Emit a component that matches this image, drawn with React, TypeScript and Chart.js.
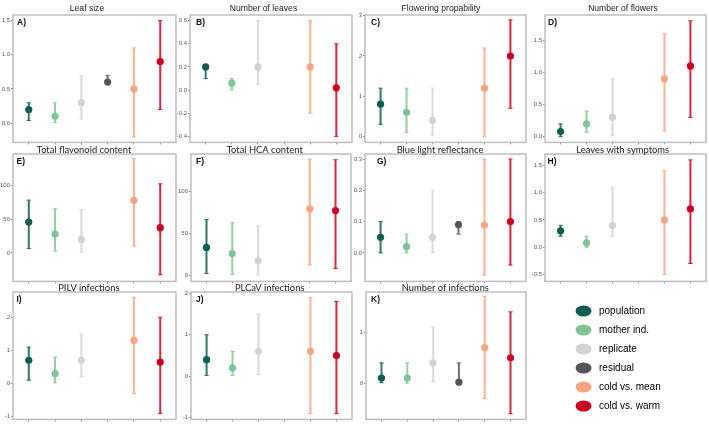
import React, { useEffect, useRef } from "react";
import { Chart, registerables } from "chart.js";

Chart.register(...registerables);

const FONT = "'Liberation Sans', Arial, sans-serif";

const categories = ["population", "mother ind.", "replicate", "residual", "cold vs. mean", "cold vs. warm"];
const seriesColors = ["#0f5c54", "#7fc497", "#d2d2d0", "#555555", "#f4a582", "#ca0020"];

// A) Leaf size
const leafSizeMean = [0.2, 0.1, 0.3, 0.6, 0.5, 0.9];
const leafSizeLow = [0.04, 0.01, 0.06, 0.57, -0.2, 0.2];
const leafSizeHigh = [0.3, 0.3, 0.7, 0.7, 1.1, 1.5];
const leafSizeTicks = ["0.0", "0.5", "1.0", "1.5"];

// B) Number of leaves
const leavesMean = [0.2, 0.06, 0.2, null, 0.2, 0.02];
const leavesLow = [0.1, 0.0, 0.05, null, -0.2, -0.4];
const leavesHigh = [0.21, 0.1, 0.6, null, 0.6, 0.4];
const leavesTicks = ["-0.4", "-0.2", "0.0", "0.2", "0.4", "0.6"];

// C) Flowering propability
const floweringMean = [0.8, 0.6, 0.4, null, 1.2, 2.0];
const floweringLow = [0.3, 0.1, 0.03, null, 0.0, 0.7];
const floweringHigh = [1.2, 1.2, 1.2, null, 2.2, 2.9];
const floweringTicks = ["0", "1", "2", "3"];

// D) Number of flowers
const flowersMean = [0.08, 0.2, 0.3, null, 0.9, 1.1];
const flowersLow = [0.0, 0.07, 0.02, null, 0.09, 0.3];
const flowersHigh = [0.2, 0.4, 0.9, null, 1.6, 1.8];
const flowersTicks = ["0.0", "0.5", "1.0", "1.5"];

// E) Total flavonoid content
const flavonoidMean = [45.8, 28, 20, null, 77.8, 37.4];
const flavonoidLow = [6.4, 2.5, 0, null, 10.3, -32.5];
const flavonoidHigh = [78.3, 65.5, 64, null, 140, 102.5];
const flavonoidTicks = ["0", "50", "100"];

// F) Total HCA content
const hcaMean = [33, 25.7, 17, null, 79, 77];
const hcaLow = [2, 0.8, 0.4, null, 12, 8];
const hcaHigh = [66.4, 62.5, 58.5, null, 138.3, 137.5];
const hcaTicks = ["0", "50", "100"];

// G) Blue light reflectance
const blueMean = [0.05, 0.02, 0.05, 0.09, 0.089, 0.1];
const blueLow = [0, 0, 0, 0.06, -0.071, -0.039];
const blueHigh = [0.1, 0.06, 0.2, 0.1, 0.3, 0.3];
const blueTicks = ["0.0", "0.1", "0.2", "0.3"];

// H) Leaves with symptoms
const symptomsMean = [0.3, 0.08, 0.4, null, 0.5, 0.7];
const symptomsLow = [0.2, 0.0, 0.2, null, -0.5, -0.3];
const symptomsHigh = [0.4, 0.2, 1.1, null, 1.4, 1.6];
const symptomsTicks = ["-0.5", "0.0", "0.5", "1.0", "1.5"];

// I) PILV infections
const pilvMean = [0.7, 0.3, 0.7, null, 1.3, 0.65];
const pilvLow = [0.1, 0.02, 0.2, null, -0.3, -0.9];
const pilvHigh = [1.1, 0.8, 1.5, null, 2.6, 2.0];
const pilvTicks = ["-1", "0", "1", "2"];

// J) PLCaV infections
const plcavMean = [0.4, 0.2, 0.6, null, 0.6, 0.5];
const plcavLow = [0.02, 0.02, 0.04, null, -0.9, -0.9];
const plcavHigh = [1.0, 0.6, 1.5, null, 1.9, 1.8];
const plcavTicks = ["-1", "0", "1", "2"];

// K) Number of infections
const infectionsMean = [0.1, 0.1, 0.4, 0.02, 0.7, 0.5];
const infectionsLow = [0.01, 0, 0.03, 0, -0.3, -0.6];
const infectionsHigh = [0.4, 0.4, 1.1, 0.4, 1.7, 1.4];
const infectionsTicks = ["0", "1"];

type Num = number | null;

interface PanelSpec {
  letter: string;
  title: string;
  mean: Num[];
  low: Num[];
  high: Num[];
  ticks: string[];
  yMin: number;
  yMax: number;
  box: [number, number, number, number];
  top: number;
  titleX: number;
  titleY: number;
  titleFont: string;
  letterDx: number;
}

const ROW1_TITLE = `8.6px ${FONT}`;
const ROW23_TITLE = `9.4px Lato, ${FONT}`;

const panels: PanelSpec[] = [
  { letter: "A)", title: "Leaf size", mean: leafSizeMean, low: leafSizeLow, high: leafSizeHigh, ticks: leafSizeTicks, yMin: -0.28, yMax: 1.58, box: [13, 15, 176, 143], top: 0, titleX: 87, titleY: 10.5, titleFont: ROW1_TITLE, letterDx: 4 },
  { letter: "B)", title: "Number of leaves", mean: leavesMean, low: leavesLow, high: leavesHigh, ticks: leavesTicks, yMin: -0.452, yMax: 0.649, box: [190, 15, 352, 143], top: 0, titleX: 263.5, titleY: 10.5, titleFont: ROW1_TITLE, letterDx: 6 },
  { letter: "C)", title: "Flowering propability", mean: floweringMean, low: floweringLow, high: floweringHigh, ticks: floweringTicks, yMin: -0.15, yMax: 3.02, box: [365, 15, 526, 143], top: 0, titleX: 441, titleY: 10.5, titleFont: ROW1_TITLE, letterDx: 6 },
  { letter: "D)", title: "Number of flowers", mean: flowersMean, low: flowersLow, high: flowersHigh, ticks: flowersTicks, yMin: -0.088, yMax: 1.89, box: [545, 15, 706, 143], top: 0, titleX: 623, titleY: 10.5, titleFont: ROW1_TITLE, letterDx: 3 },
  { letter: "E)", title: "Total flavonoid content", mean: flavonoidMean, low: flavonoidLow, high: flavonoidHigh, ticks: flavonoidTicks, yMin: -42.4, yMax: 146.8, box: [13, 154, 176, 282], top: 143, titleX: 84, titleY: 152.7, titleFont: ROW23_TITLE, letterDx: 3.5 },
  { letter: "F)", title: "Total HCA content", mean: hcaMean, low: hcaLow, high: hcaHigh, ticks: hcaTicks, yMin: -7.5, yMax: 144.3, box: [191, 154, 351, 282], top: 143, titleX: 264.7, titleY: 152.7, titleFont: ROW23_TITLE, letterDx: 5 },
  { letter: "G)", title: "Blue light reflectance", mean: blueMean, low: blueLow, high: blueHigh, ticks: blueTicks, yMin: -0.091, yMax: 0.316, box: [365, 154, 526, 282], top: 143, titleX: 440, titleY: 152.7, titleFont: ROW23_TITLE, letterDx: 12 },
  { letter: "H)", title: "Leaves with symptoms", mean: symptomsMean, low: symptomsLow, high: symptomsHigh, ticks: symptomsTicks, yMin: -0.628, yMax: 1.708, box: [545, 154, 706, 282], top: 143, titleX: 622.7, titleY: 152.7, titleFont: ROW23_TITLE, letterDx: 2.5 },
  { letter: "I)", title: "PILV infections", mean: pilvMean, low: pilvLow, high: pilvHigh, ticks: pilvTicks, yMin: -1.08, yMax: 2.76, box: [13, 292, 176, 420], top: 281, titleX: 88.8, titleY: 290.7, titleFont: ROW23_TITLE, letterDx: 3.5 },
  { letter: "J)", title: "PLCaV infections", mean: plcavMean, low: plcavLow, high: plcavHigh, ticks: plcavTicks, yMin: -1.04, yMax: 2.03, box: [191, 292, 352, 420], top: 281, titleX: 269.7, titleY: 290.7, titleFont: ROW23_TITLE, letterDx: 5 },
  { letter: "K)", title: "Number of infections", mean: infectionsMean, low: infectionsLow, high: infectionsHigh, ticks: infectionsTicks, yMin: -0.71, yMax: 1.79, box: [366, 292, 526, 420], top: 281, titleX: 445.3, titleY: 290.7, titleFont: ROW23_TITLE, letterDx: 5 },
];

function withAlpha(hex: string, a: number): string {
  const n = parseInt(hex.slice(1), 16);
  return `rgba(${(n >> 16) & 255}, ${(n >> 8) & 255}, ${n & 255}, ${a})`;
}

// Frame around the plotting area, the panel letter and the panel heading.
const panelDecor = {
  id: "panelDecor",
  beforeDatasetsDraw(chart: any, _args: any, opts: any) {
    const { ctx, chartArea: a } = chart;
    ctx.save();
    ctx.strokeStyle = "#bdbdbd";
    ctx.lineWidth = 1.5;
    ctx.strokeRect(a.left, a.top, a.right - a.left, a.bottom - a.top);
    ctx.restore();
  },
  afterDraw(chart: any, _args: any, opts: any) {
    const { ctx, chartArea: a } = chart;
    ctx.save();
    ctx.textAlign = "left";
    ctx.textBaseline = "alphabetic";
    ctx.fillStyle = "#111111";
    ctx.font = `bold 8.5px ${FONT}`;
    ctx.fillText(opts.letter, a.left + opts.letterDx, a.top + 10);
    ctx.textAlign = "center";
    ctx.fillStyle = "#222222";
    ctx.font = opts.titleFont;
    ctx.fillText(opts.title, opts.titleX, opts.titleY);
    ctx.restore();
  },
};

function buildDatasets(spec: PanelSpec) {
  const estimates = {
    label: "estimate",
    data: categories.map((_, i) => ({ x: i, y: spec.mean[i] })),
    pointRadius: 3.6,
    pointBorderWidth: 0,
    pointBackgroundColor: seriesColors,
    pointBorderColor: seriesColors,
    showLine: false,
  };
  const whiskers = categories
    .map((_, i) => i)
    .filter((i) => spec.mean[i] !== null)
    .map((i) => {
      const c = withAlpha(seriesColors[i], 0.85);
      return {
        label: categories[i],
        data: [
          { x: i, y: spec.low[i] },
          { x: i, y: spec.high[i] },
        ],
        showLine: true,
        borderColor: c,
        borderWidth: 2,
        pointStyle: "line",
        pointRadius: 2.2,
        pointBorderWidth: 1,
        pointBorderColor: c,
        pointBackgroundColor: c,
      };
    });
  return [estimates, ...whiskers];
}

function Panel({ spec }: { spec: PanelSpec }) {
  const ref = useRef<HTMLCanvasElement>(null);
  const [l, t, r, b] = spec.box;
  const left = Math.max(0, l - 14);
  const top = spec.top;
  const width = r + 2 - left;
  const height = b + 4 - top;

  useEffect(() => {
    const gutter = l - left;
    const tickValues = spec.ticks.map(Number);
    const gridOpts = { display: true, drawOnChartArea: false, drawTicks: true, tickLength: 2, color: "#8a8a8a", lineWidth: 1 };
    const chart = new Chart(ref.current as HTMLCanvasElement, {
      type: "scatter",
      data: { datasets: buildDatasets(spec) as any },
      options: {
        responsive: false,
        animation: false,
        events: [],
        layout: { autoPadding: false, padding: { left: 0, top: t - top, right: 2, bottom: 0 } },
        scales: {
          x: {
            type: "linear",
            min: -0.6,
            max: 5.6,
            afterBuildTicks: (s: any) => {
              s.ticks = categories.map((_, i) => ({ value: i }));
            },
            afterFit: (s: any) => {
              s.height = 4;
            },
            grid: gridOpts,
            border: { display: false },
            ticks: { display: false },
          },
          y: {
            type: "linear",
            min: spec.yMin,
            max: spec.yMax,
            afterBuildTicks: (s: any) => {
              s.ticks = tickValues.map((v) => ({ value: v }));
            },
            afterFit: (s: any) => {
              s.width = gutter;
            },
            grid: gridOpts,
            border: { display: false },
            ticks: {
              autoSkip: false,
              padding: 1,
              color: "#555555",
              font: { family: FONT, size: 6 },
              callback: (_v: any, index: number) => spec.ticks[index],
            },
          },
        },
        plugins: {
          legend: { display: false },
          tooltip: { enabled: false },
          panelDecor: {
            letter: spec.letter,
            title: spec.title,
            titleX: spec.titleX - left,
            titleY: spec.titleY - top,
            titleFont: spec.titleFont,
            letterDx: spec.letterDx,
          },
        } as any,
      },
      plugins: [panelDecor],
    });
    return () => chart.destroy();
  }, []);

  return (
    <canvas
      ref={ref}
      width={width}
      height={height}
      style={{ position: "absolute", left, top, width, height }}
    />
  );
}

function makeSwatch(color: string): HTMLCanvasElement {
  const c = document.createElement("canvas");
  c.width = 17;
  c.height = 12;
  const g = c.getContext("2d") as CanvasRenderingContext2D;
  g.fillStyle = color;
  g.beginPath();
  g.ellipse(8.5, 6, 8, 5.6, 0, 0, Math.PI * 2);
  g.fill();
  return c;
}

function Legend() {
  const ref = useRef<HTMLCanvasElement>(null);
  const left = 564;
  const top = 297;
  const width = 140;
  const height = 127;

  useEffect(() => {
    const swatches = seriesColors.map(makeSwatch);
    const chart = new Chart(ref.current as HTMLCanvasElement, {
      type: "scatter",
      data: {
        datasets: categories.map((c, i) => ({ label: c, data: [], backgroundColor: seriesColors[i] })),
      },
      options: {
        responsive: false,
        animation: false,
        events: [],
        layout: { padding: 0 },
        scales: { x: { display: false }, y: { display: false } },
        plugins: {
          tooltip: { enabled: false },
          legend: {
            display: true,
            position: "top",
            align: "start",
            maxHeight: height,
            labels: {
              usePointStyle: true,
              pointStyleWidth: 21,
              padding: 9,
              color: "#333333",
              font: { family: FONT, size: 10 },
              generateLabels: (ch: any) =>
                ch.data.datasets.map((ds: any, i: number) => ({
                  text: ds.label,
                  fillStyle: ds.backgroundColor,
                  strokeStyle: ds.backgroundColor,
                  lineWidth: 0,
                  pointStyle: swatches[i],
                  hidden: false,
                  datasetIndex: i,
                })),
            },
          },
        } as any,
      },
    });
    return () => chart.destroy();
  }, []);

  return (
    <canvas
      ref={ref}
      width={width}
      height={height}
      style={{ position: "absolute", left, top, width, height }}
    />
  );
}

export default function App() {
  return (
    <div style={{ position: "fixed", left: 0, top: 0, width: 709, height: 424, background: "#ffffff", overflow: "hidden" }}>
      {panels.map((p) => (
        <Panel key={p.letter} spec={p} />
      ))}
      <Legend />
    </div>
  );
}
